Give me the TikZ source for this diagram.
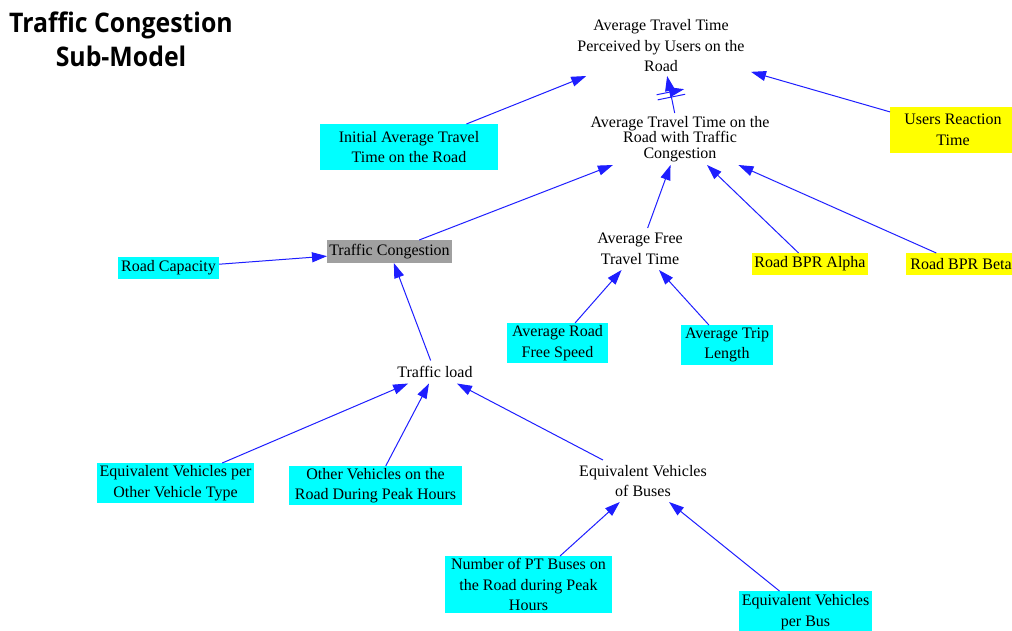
\documentclass[tikz,border=0pt]{standalone}
\usepackage{fontspec}
\setmainfont{Liberation Serif}
\newfontfamily\titlefont[FakeStretch=0.92]{Open Sans}
\usetikzlibrary{arrows.meta,decorations.markings}

\definecolor{boxcyan}{RGB}{0,255,255}
\definecolor{boxyellow}{RGB}{255,255,0}
\definecolor{boxgray}{RGB}{160,160,160}
\definecolor{linkblue}{RGB}{30,30,255}

\begin{document}
\begin{tikzpicture}[x=1pt,y=-1pt,
  every node/.style={font=\fontsize{16}{20.5}\selectfont, align=center,
    inner sep=0pt, outer sep=0pt, text=black},
  wh/.style 2 args={minimum width=#1, minimum height=#2},
  cyanbox/.style={fill=boxcyan},
  yellowbox/.style={fill=boxyellow},
  graybox/.style={fill=boxgray},
  plainvar/.style={},
  conn/.style={draw=linkblue, line width=1pt,
    -{Triangle[length=15pt,width=10pt]}},
  delaymark/.style={postaction={decorate},
    decoration={markings, mark=at position 0.5 with {
      \draw[linkblue, line width=1pt] (-2.6,-14) -- (-2.6,14) (2.6,-14) -- (2.6,14);}}}
]
\fill[white] (0,0) rectangle (1012,630);
\useasboundingbox (0,0) rectangle (1012,630);

% title
\node[font=\titlefont\bfseries\fontsize{27}{34}\selectfont] (title) at (121,39)
  {Traffic Congestion\\Sub-Model};

% variables
\node[cyanbox, wh={178}{46}] (init) at (409,147) {Initial Average Travel\\Time on the Road};
\node[yellowbox, wh={126}{46}] (urt) at (953,130) {Users Reaction\\Time};
\node[plainvar, wh={180}{60}] (attp) at (661,46) {Average Travel Time\\Perceived by Users on the\\Road};
\node[plainvar, wh={184}{52}, font=\fontsize{16}{15.5}\selectfont] (attc) at (680,139)
  {Average Travel Time on the\\Road with Traffic\\Congestion};
\node[graybox, wh={125}{23}] (tc) at (389.5,251.5) {Traffic Congestion};
\node[cyanbox, wh={101}{22}] (rc) at (168.5,268) {Road Capacity};
\node[plainvar, wh={96}{42}] (aftt) at (640,249) {Average Free\\Travel Time};
\node[yellowbox, wh={116}{22}] (alpha) at (810,264) {Road BPR Alpha};
\node[yellowbox, wh={110}{22}] (beta) at (961,264) {Road BPR Beta};
\node[cyanbox, wh={101}{40}] (afs) at (557.5,343) {Average Road\\Free Speed};
\node[cyanbox, wh={92}{40}] (atl) at (727,345) {Average Trip\\Length};
\node[plainvar, wh={84}{23}] (tl) at (435,372) {Traffic load};
\node[cyanbox, wh={157}{40}] (evo) at (175.5,483) {Equivalent Vehicles per\\Other Vehicle Type};
\node[cyanbox, wh={173}{39}] (ovr) at (375.5,485.5) {Other Vehicles on the\\Road During Peak Hours};
\node[plainvar, wh={136}{42}] (evbus) at (643,481) {Equivalent Vehicles\\of Buses};
\node[cyanbox, wh={167}{57}] (npt) at (528.5,584.5) {Number of PT Buses on\\the Road during Peak\\Hours};
\node[cyanbox, wh={133}{42}] (evb) at (805.5,612) {Equivalent Vehicles\\per Bus};

% causal links
\draw[conn] (init) -- (attp);
\draw[conn] (urt) -- (attp);
\draw[conn, delaymark] (attc) -- (attp);
\draw[conn] (tc) -- (attc);
\draw[conn] (aftt) -- (attc);
\draw[conn] (alpha) -- (attc);
\draw[conn] (beta) -- (attc);
\draw[conn] (rc) -- (tc);
\draw[conn] (tl) -- (tc);
\draw[conn] (afs) -- (aftt);
\draw[conn] (atl) -- (aftt);
\draw[conn] (evo) -- (tl);
\draw[conn] (ovr) -- (tl);
\draw[conn] (evbus) -- (tl);
\draw[conn] (npt) -- (evbus);
\draw[conn] (evb) -- (evbus);
\end{tikzpicture}
\end{document}
